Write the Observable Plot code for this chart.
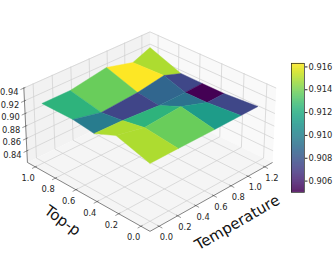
<!DOCTYPE html>
<html>
<head>
<meta charset="utf-8">
<script src="https://cdn.jsdelivr.net/npm/d3@7"></script>
<script src="https://cdn.jsdelivr.net/npm/@observablehq/plot@0.6"></script>
<style>
html,body{margin:0;padding:0;background:#fff;overflow:hidden}
#wrap{position:relative;width:333px;height:255px}
#wrap svg{position:absolute;left:0;top:0;background:transparent;overflow:visible}
</style>
</head>
<body>
<div id="wrap"></div>
<script>
const temperatures = [0, 0.3, 0.7, 1.0, 1.2];
const topPs = [0, 0.3, 0.5, 0.7, 1.0];
// accuracy per (top-p row, temperature column)
const accuracyRow0 = [0.9102, 0.9105, 0.9105, 0.9110, 0.9112];
const accuracyRow1 = [0.9258, 0.9165, 0.9208, 0.9064, 0.9071];
const accuracyRow2 = [0.9115, 0.9103, 0.9058, 0.9061, 0.9071];
const accuracyRow3 = [0.9161, 0.9060, 0.9101, 0.9173, 0.9074];
const accuracyRow4 = [0.9159, 0.9160, 0.9262, 0.9148, 0.9265];
// facet colour values
const faceRow0 = [0.9149, 0.9137, 0.9112, 0.9074];
const faceRow1 = [0.9149, 0.9123, 0.9093, 0.9050];
const faceRow2 = [0.9097, 0.9073, 0.9087, 0.9074];
const faceRow3 = [0.9123, 0.9137, 0.9163, 0.9149];

const temperatureTicks = [0, 0.2, 0.4, 0.6, 0.8, 1.0, 1.2];
const topPTicks = [0, 0.2, 0.4, 0.6, 0.8, 1.0];
const zTicks = [0.84, 0.86, 0.88, 0.90, 0.92, 0.94];
const colorTicks = [0.906, 0.908, 0.910, 0.912, 0.914, 0.916];
const tempDomain = [-0.096, 1.296];
const topPDomain = [-0.08, 1.08];
const zDomain = [0.821, 0.941];
const colorDomain = [0.905, 0.9163];

const surface = [accuracyRow0, accuracyRow1, accuracyRow2, accuracyRow3, accuracyRow4];
const faces = [faceRow0, faceRow1, faceRow2, faceRow3];

// 3D view projection (elevation 30°, looking from the low-temperature, low-top-p corner)
const ELEV = 30 * Math.PI / 180, DIST = 10, SIDE = 1.19, HEIGHT = 0.586;
const nu = t => (t - tempDomain[0]) / (tempDomain[1] - tempDomain[0]);
const nv = p => (p - topPDomain[0]) / (topPDomain[1] - topPDomain[0]);
const nw = z => (z - zDomain[0]) / (zDomain[1] - zDomain[0]);
function projectN(u, v, w) {
  const X = (u - .5) * SIDE, Y = (v - .5) * SIDE, Z = (w - .5) * HEIGHT;
  const r = (X - Y) / Math.SQRT2, s = (X + Y) / Math.SQRT2;
  const dep = DIST + s * Math.cos(ELEV) - Z * Math.sin(ELEV);
  return {x: r / dep, y: (s * Math.sin(ELEV) + Z * Math.cos(ELEV)) / dep, s};
}
const project = (t, p, z) => projectN(nu(t), nv(p), nw(z));
const seg = (a, b, extra = {}) => ({x1: a.x, y1: a.y, x2: b.x, y2: b.y, ...extra});

// walls and floor
const poly = (id, corners) => corners.concat([corners[0]]).map(c => ({id, ...projectN(...c)}));
const panes = [
  ...poly("left", [[0,1,0],[1,1,0],[1,1,1],[0,1,1]]),
  ...poly("right", [[1,1,0],[1,0,0],[1,0,1],[1,1,1]]),
  ...poly("floor", [[0,0,0],[1,0,0],[1,1,0],[0,1,0]])
];
const paneFill = {left: "#f2f2f2", right: "#f9f9f9", floor: "#f5f5f5"};

// grid
const grid = [];
for (const t of temperatureTicks) {
  const u = nu(t);
  grid.push(seg(projectN(u,0,0), projectN(u,1,0)), seg(projectN(u,1,0), projectN(u,1,1)));
}
for (const p of topPTicks) {
  const v = nv(p);
  grid.push(seg(projectN(0,v,0), projectN(1,v,0)), seg(projectN(1,v,0), projectN(1,v,1)));
}
for (const z of zTicks) {
  const w = nw(z);
  grid.push(seg(projectN(0,1,w), projectN(1,1,w)), seg(projectN(1,1,w), projectN(1,0,w)));
}

// surface facets, far ones first
const facets = [];
faces.forEach((row, i) => row.forEach((value, j) => {
  const pts = [[i,j],[i,j+1],[i+1,j+1],[i+1,j],[i,j]].map(([a,b]) => project(temperatures[b], topPs[a], surface[a][b]));
  facets.push({id: `${i}-${j}`, value, pts, depth: d3.mean(pts, q => q.s)});
}));
facets.sort((a, b) => b.depth - a.depth);
const facetPts = facets.flatMap(f => f.pts.map(q => ({id: f.id, value: f.value, x: q.x, y: q.y})));

// axes
const axisLines = [
  seg(projectN(0,0,0), projectN(1,0,0)),
  seg(projectN(0,0,0), projectN(0,1,0)),
  seg(projectN(0,1,0), projectN(0,1,1))
];
const tickMarks = [
  ...temperatureTicks.map(t => seg(projectN(nu(t),-0.025,0), projectN(nu(t),0.012,0))),
  ...topPTicks.map(p => seg(projectN(-0.025,nv(p),0), projectN(0.012,nv(p),0))),
  ...zTicks.map(z => seg(projectN(-0.025,1,nw(z)), projectN(0.012,1,nw(z))))
];
const tempLabels = temperatureTicks.map(t => ({...projectN(nu(t),-0.055,0), text: t.toFixed(1)}));
const topPLabels = topPTicks.map(p => ({...projectN(-0.055,nv(p),0), text: p.toFixed(1)}));
const zLabels = zTicks.map(z => ({...projectN(0,1,nw(z)), text: z.toFixed(2)}));

const FONT = "DejaVu Sans";
const SCALE = 1478, CX = 149.5, CY = 125;
const main = Plot.plot({
  width: 333, height: 255,
  marginTop: 0, marginRight: 0, marginBottom: 0, marginLeft: 0,
  x: {axis: null, domain: [-CX / SCALE, (333 - CX) / SCALE], range: [0, 333]},
  y: {axis: null, domain: [(CY - 255) / SCALE, CY / SCALE], range: [255, 0]},
  color: {type: "linear", scheme: "viridis", domain: colorDomain, clamp: true},
  style: {fontFamily: FONT},
  marks: [
    Plot.line(panes, {x: "x", y: "y", z: "id", fill: d => paneFill[d.id], stroke: "none"}),
    Plot.link(grid, {x1: "x1", y1: "y1", x2: "x2", y2: "y2", stroke: "#cfcfcf", strokeWidth: 0.7}),
    Plot.link(axisLines, {x1: "x1", y1: "y1", x2: "x2", y2: "y2", stroke: "#333", strokeWidth: 0.6}),
    Plot.link(tickMarks, {x1: "x1", y1: "y1", x2: "x2", y2: "y2", stroke: "#333", strokeWidth: 0.5}),
    Plot.line(facetPts, {x: "x", y: "y", z: "id", fill: "value", stroke: "value", strokeWidth: 0.4}),
    Plot.text(tempLabels, {x: "x", y: "y", text: "text", dy: 7.5, fontSize: 8.3, fill: "#262626"}),
    Plot.text(topPLabels, {x: "x", y: "y", text: "text", dy: 7.5, fontSize: 8.3, fill: "#262626"}),
    Plot.text(zLabels, {x: "x", y: "y", text: "text", dx: -14.5, dy: 4, fontSize: 8.3, fill: "#262626"}),
    Plot.text([{...project(0.62, topPDomain[0], zDomain[0]), text: "Temperature"}], {
      x: "x", y: "y", text: "text", dx: 22, dy: 28, fontSize: 15, rotate: -30, fill: "#111"}),
    Plot.text([{...project(tempDomain[0], 0.5, zDomain[0]), text: "Top-p"}], {
      x: "x", y: "y", text: "text", dx: -24, dy: 25, fontSize: 15, rotate: 36, fill: "#111"})
  ]
});

// colour bar
const barSteps = d3.range(0, 256).map(i => colorDomain[0] + (colorDomain[1] - colorDomain[0]) * i / 256);
const barStep = (colorDomain[1] - colorDomain[0]) / 256;
const bar = Plot.plot({
  width: 333, height: 255,
  marginTop: 63, marginBottom: 63, marginLeft: 291, marginRight: 29,
  x: {axis: null, domain: [0, 1]},
  y: {axis: "right", domain: colorDomain, ticks: colorTicks, tickFormat: ".3f", label: null, tickSize: 2.5, tickPadding: 1.5},
  color: {type: "linear", scheme: "viridis", domain: colorDomain},
  style: {fontFamily: FONT, fontSize: "8.3px", color: "#262626", background: "transparent"},
  marks: [
    Plot.rect(barSteps, {x1: 0, x2: 1, y1: d => d, y2: d => d + barStep * 1.3, fill: d => d}),
    Plot.frame({stroke: "#222", strokeWidth: 0.7})
  ]
});

const wrap = document.getElementById("wrap");
wrap.append(main, bar);
</script>
</body>
</html>
